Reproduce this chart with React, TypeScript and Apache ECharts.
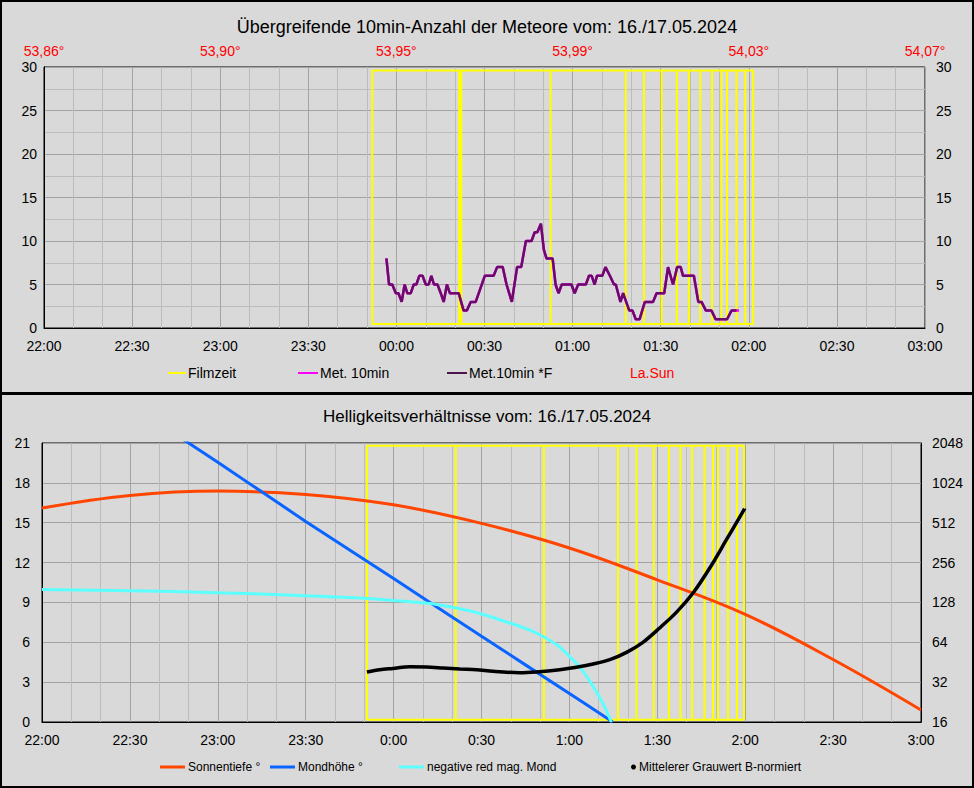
import { useEffect, useRef } from "react";
import * as echarts from "echarts";

const FONT = "'Liberation Sans', Arial, sans-serif";

// minutes after 22:00
const topTimeLabels = ["22:00", "22:30", "23:00", "23:30", "00:00", "00:30", "01:00", "01:30", "02:00", "02:30", "03:00"];
const bottomTimeLabels = ["22:00", "22:30", "23:00", "23:30", "0:00", "0:30", "1:00", "1:30", "2:00", "2:30", "3:00"];
const sunLongLabels = ["53,86°", "53,90°", "53,95°", "53,99°", "54,03°", "54,07°"];

const filmBoundsTop = [111.8, 141.4, 142.1, 172.5, 198.1, 204.3, 210.3, 215.5, 219.6, 223.5, 227.5, 230.7, 232.6, 235.8, 238.8, 241.5];
const filmBoundsBottom = [110.9, 141.2, 171.3, 196.6, 202.9, 208.8, 214.0, 217.9, 221.9, 226.1, 229.0, 230.7, 234.1, 237.2, 239.6];

const metTimes = [
    116.6, 117.5, 118.6, 119.8, 120.7, 121.8, 122.8, 123.7, 124.9, 125.9, 126.8, 127.8, 128.9, 130.0, 131.0, 131.9,
    132.8, 134.0, 135.1, 136.1, 137.2, 138.2, 141.2, 142.9, 144.0, 145.3, 147.0, 150.1, 153.1, 154.3, 156.2, 157.5,
    159.3, 161.1, 162.5, 164.1, 166.0, 167.1, 168.0, 169.2, 170.2, 171.1, 173.2, 174.2, 175.2, 176.3, 177.9, 179.6,
    180.7, 181.9, 184.5, 185.6, 186.5, 187.5, 188.3, 190.1, 191.2, 192.7, 194.1, 194.7, 196.3, 197.2, 199.3, 200.4,
    201.5, 202.8, 204.6, 207.4, 208.6, 211.2, 212.5, 214.2, 215.6, 216.8, 217.6, 221.3, 222.8, 223.9, 225.4, 227.3,
    228.7, 232.6, 234.1, 235.8, 236.7
];
const metCounts = [
    8, 5, 5, 4, 4, 3, 5, 4, 4, 5, 5, 6, 6, 5, 5, 6,
    5, 5, 4, 3, 5, 4, 4, 2, 2, 3, 3, 6, 6, 7, 7, 5,
    3, 7, 7, 10, 10, 11, 11, 12, 9, 8, 8, 5, 4, 5, 5, 5,
    4, 5, 5, 6, 6, 5, 6, 6, 7, 6, 5, 5, 3, 4, 2, 2,
    1, 1, 3, 3, 4, 4, 7, 5, 7, 7, 6, 6, 3, 3, 2, 2,
    1, 1, 2, 2, 2
];

const sunTimes = [0, 30, 60, 90, 120, 150, 180, 210, 240, 270, 300];
const sunDepth = [16.1, 17.05, 17.38, 17.13, 16.35, 14.95, 13.1, 10.7, 8.1, 4.7, 0.9];

const moonTimes = [30, 60, 90, 120, 150, 180, 194.8];
const moonAlt = [23.9, 19.55, 15.1, 10.8, 6.45, 2.15, 0];

const magTimes = [0, 30, 60, 90, 120, 141.4, 159.6, 171, 180, 188.1, 194.3];
const magMoon = [9.98, 9.88, 9.73, 9.5, 9.15, 8.58, 7.45, 6.44, 4.94, 2.68, 0];

const greyTimes = [
    110.9, 115.3, 119.8, 125.5, 131.2, 136.9, 142.6, 148.3, 153.9, 163.0, 168.7, 176.7,
    182.4, 188.1, 193.8, 199.5, 205.1, 210.8, 216.5, 222.2, 227.9, 233.6, 239.8
];
const greyValues = [
    38.2, 39.7, 40.6, 41.8, 41.6, 40.9, 40.2, 39.7, 38.6, 37.7, 38.2, 39.7,
    41.4, 43.9, 47.3, 53.7, 63.9, 82.1, 107.6, 150.8, 232.9, 381, 653
];

function zip(xs: number[], ys: number[]): number[][] {
    return xs.map((x, i) => [x, ys[i]]);
}

// trace film boundaries as a rectangle chain: verticals + top/bottom edges
function filmPath(bounds: number[], lo: number, hi: number): number[][] {
    const pts: number[][] = [];
    bounds.forEach((b, i) => {
        if (i % 2 === 0) pts.push([b, lo], [b, hi]);
        else pts.push([b, hi], [b, lo]);
    });
    const last = pts[pts.length - 1][1];
    const other = last === lo ? hi : lo;
    pts.push([bounds[0], last], [bounds[0], other], [bounds[bounds.length - 1], other]);
    return pts;
}

const axisText = { color: "#000", fontSize: 14, fontFamily: FONT };
const majorGrid = { show: true, lineStyle: { color: "#a3a3a3", width: 1 } };
const minorGrid = { show: true, lineStyle: { color: "#bcbcbc", width: 1 } };

const topLegendText = { fontSize: 14, fontFamily: FONT, color: "#000", padding: [0, 0, 0, -3] };
const bottomLegendText = { fontSize: 12, fontFamily: FONT, color: "#000", padding: [0, 0, 0, -2] };

function buildOption(): echarts.EChartsCoreOption {
    const lineBase = { type: "line" as const, symbol: "none", animation: false };
    return {
        animation: false,
        backgroundColor: "#d9d9d9",
        textStyle: { fontFamily: FONT },
        title: [
            {
                text: "Übergreifende 10min-Anzahl der Meteore vom: 16./17.05.2024",
                left: "center", top: 13,
                textStyle: { fontSize: 18, fontWeight: "normal", color: "#000", fontFamily: FONT }
            },
            {
                text: "Helligkeitsverhältnisse vom: 16./17.05.2024",
                left: "center", top: 403,
                textStyle: { fontSize: 17, fontWeight: "normal", color: "#000", fontFamily: FONT }
            }
        ],
        legend: [
            { data: [{ name: "Filmzeit", icon: "rect" }], left: 163, top: 361, itemWidth: 18, itemHeight: 2, textStyle: topLegendText },
            { data: [{ name: "Met. 10min", icon: "rect" }], left: 293, top: 361, itemWidth: 20, itemHeight: 2, textStyle: topLegendText },
            { data: [{ name: "Met.10min *F", icon: "rect" }], left: 442, top: 361, itemWidth: 20, itemHeight: 2, textStyle: topLegendText },
            { data: [{ name: "La.Sun", icon: "none" }], left: 605, top: 361, itemWidth: 18, itemHeight: 2, textStyle: { ...topLegendText, color: "#ff0000" } },
            { data: [{ name: "Sonnentiefe °", icon: "rect" }], left: 155, top: 756, itemWidth: 25, itemHeight: 3, textStyle: bottomLegendText },
            { data: [{ name: "Mondhöhe °", icon: "rect" }], left: 265, top: 756, itemWidth: 25, itemHeight: 3, textStyle: bottomLegendText },
            { data: [{ name: "negative red mag. Mond", icon: "rect" }], left: 394, top: 756, itemWidth: 25, itemHeight: 3, textStyle: bottomLegendText },
            { data: [{ name: "Mittelerer Grauwert B-normiert", icon: "circle" }], left: 626, top: 756, itemWidth: 5, itemHeight: 5, textStyle: bottomLegendText }
        ],
        grid: [
            { left: 44, top: 67, width: 881, height: 261, show: true, borderColor: "#000", borderWidth: 1, backgroundColor: "transparent" },
            { left: 42, top: 443, width: 879, height: 279, show: true, borderColor: "#000", borderWidth: 1, backgroundColor: "transparent" }
        ],
        xAxis: [
            {
                type: "value", gridIndex: 0, min: 0, max: 300, interval: 30,
                axisLine: { show: true, lineStyle: { color: "#000" } }, axisTick: { show: false },
                axisLabel: { ...axisText, margin: 11, formatter: (v: number) => topTimeLabels[Math.round(v / 30)] ?? "" },
                splitLine: majorGrid, minorTick: { show: false, splitNumber: 3 }, minorSplitLine: minorGrid
            },
            {
                type: "value", gridIndex: 0, position: "top", min: 0, max: 300, interval: 60,
                axisLine: { show: false }, axisTick: { show: false }, splitLine: { show: false },
                axisLabel: { ...axisText, color: "#ff0000", margin: 9, formatter: (v: number) => sunLongLabels[Math.round(v / 60)] ?? "" }
            },
            {
                type: "value", gridIndex: 1, min: 0, max: 300, interval: 30,
                axisLine: { show: true, lineStyle: { color: "#000" } }, axisTick: { show: false },
                axisLabel: { ...axisText, margin: 11, formatter: (v: number) => bottomTimeLabels[Math.round(v / 30)] ?? "" },
                splitLine: majorGrid, minorTick: { show: false, splitNumber: 3 }, minorSplitLine: minorGrid
            }
        ],
        yAxis: [
            {
                type: "value", gridIndex: 0, min: 0, max: 30, interval: 5,
                axisLine: { show: true, lineStyle: { color: "#000" } }, axisTick: { show: false },
                axisLabel: { ...axisText, margin: 7 },
                splitLine: majorGrid, minorTick: { show: false, splitNumber: 2 }, minorSplitLine: minorGrid
            },
            {
                type: "value", gridIndex: 0, position: "right", min: 0, max: 30, interval: 5,
                axisLine: { show: true, lineStyle: { color: "#000" } }, axisTick: { show: false },
                axisLabel: { ...axisText, margin: 11 }, splitLine: { show: false }
            },
            {
                type: "value", gridIndex: 1, min: 0, max: 21, interval: 3,
                axisLine: { show: true, lineStyle: { color: "#000" } }, axisTick: { show: false },
                axisLabel: { ...axisText, margin: 12 }, splitLine: majorGrid
            },
            {
                type: "log", logBase: 2, gridIndex: 1, position: "right", min: 16, max: 2048,
                axisLine: { show: true, lineStyle: { color: "#000" } }, axisTick: { show: false },
                axisLabel: { ...axisText, margin: 11, formatter: (v: number) => String(Math.round(v)) },
                splitLine: { show: false }, minorSplitLine: { show: false }
            }
        ],
        series: [
            {
                ...lineBase, name: "Filmzeit", xAxisIndex: 0, yAxisIndex: 0,
                data: filmPath(filmBoundsTop, 0.45, 29.6),
                lineStyle: { color: "#ffff00", width: 2 }, itemStyle: { color: "#ffff00" }
            },
            {
                ...lineBase, name: "Met. 10min", xAxisIndex: 0, yAxisIndex: 0,
                data: zip(metTimes, metCounts),
                lineStyle: { color: "#ff00ff", width: 2.5 }, itemStyle: { color: "#ff00ff" }
            },
            {
                ...lineBase, name: "Met.10min *F", xAxisIndex: 0, yAxisIndex: 0,
                data: zip(metTimes, metCounts).slice(0, -1),
                lineStyle: { color: "#6c0a6c", width: 2.5 }, itemStyle: { color: "#4e1450" }
            },
            { ...lineBase, name: "La.Sun", xAxisIndex: 0, yAxisIndex: 0, data: [], itemStyle: { color: "#ff0000" } },
            {
                ...lineBase, name: "Filmzeit Helligkeit", xAxisIndex: 2, yAxisIndex: 2,
                data: filmPath(filmBoundsBottom, 0.17, 20.8),
                lineStyle: { color: "#ffff00", width: 2 }, itemStyle: { color: "#ffff00" }
            },
            {
                ...lineBase, name: "Sonnentiefe °", xAxisIndex: 2, yAxisIndex: 2, smooth: 0.4,
                data: zip(sunTimes, sunDepth),
                lineStyle: { color: "#ff4500", width: 3 }, itemStyle: { color: "#ff4500" }
            },
            {
                ...lineBase, name: "Mondhöhe °", xAxisIndex: 2, yAxisIndex: 2, smooth: 0.3,
                data: zip(moonTimes, moonAlt),
                lineStyle: { color: "#0a64ff", width: 3 }, itemStyle: { color: "#0a64ff" }
            },
            {
                ...lineBase, name: "negative red mag. Mond", xAxisIndex: 2, yAxisIndex: 2, smooth: 0.5,
                data: zip(magTimes, magMoon),
                lineStyle: { color: "#5cffff", width: 3 }, itemStyle: { color: "#5cffff" }
            },
            {
                ...lineBase, name: "Mittelerer Grauwert B-normiert", xAxisIndex: 2, yAxisIndex: 3, smooth: 0.3,
                data: zip(greyTimes, greyValues),
                lineStyle: { color: "#000", width: 3.5 }, itemStyle: { color: "#000" }
            }
        ],
        graphic: [
            { type: "rect", shape: { x: 1, y: 1, width: 972, height: 786 }, style: { fill: "none", stroke: "#000", lineWidth: 2 }, silent: true },
            { type: "rect", shape: { x: 0, y: 392, width: 974, height: 3 }, style: { fill: "#000" }, silent: true }
        ]
    };
}

export default function App() {
    const ref = useRef<HTMLDivElement>(null);

    useEffect(() => {
        if (!ref.current) return;
        const chart = echarts.init(ref.current, undefined, { renderer: "svg" });
        chart.setOption(buildOption());
        return () => chart.dispose();
    }, []);

    return (
        <div
            ref={ref}
            style={{ position: "fixed", left: 0, top: 0, width: 974, height: 788 }}
        />
    );
}
